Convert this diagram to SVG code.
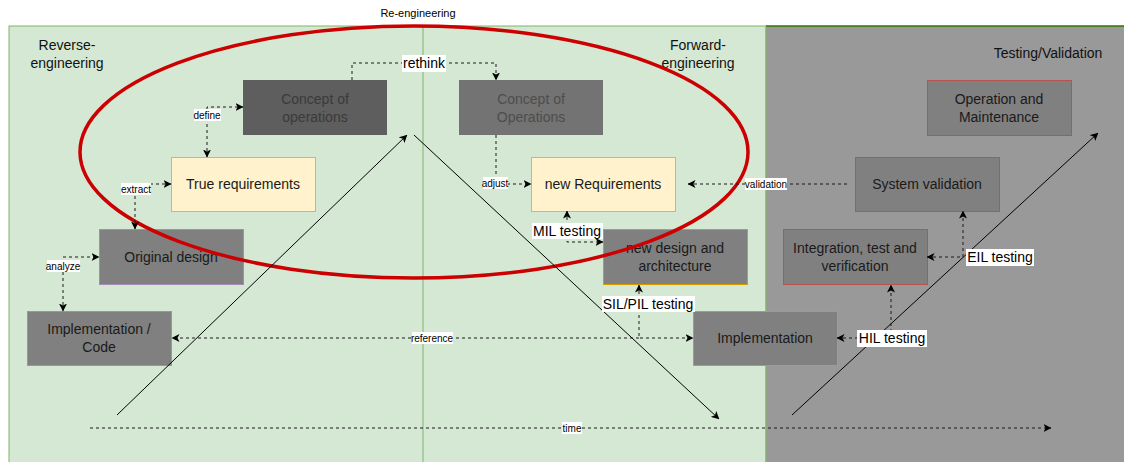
<svg xmlns="http://www.w3.org/2000/svg" width="1124" height="462" viewBox="0 0 1124 462">
<style>
text{font-family:"Liberation Sans",Arial,sans-serif;text-anchor:middle;}
.t14{font-size:14px;}
.t10{font-size:10px;}
.t11{font-size:11px;}
.dark{fill:#1a1a1a;}
.conn{fill:none;stroke:#1a1a1a;stroke-width:1;stroke-dasharray:3 3;}
.solid{fill:none;stroke:#000;stroke-width:1;}
.lbl{fill:#fff;}
.gbox{fill:#808080;}
</style>
<defs>
<marker id="arr" viewBox="0 0 8 8" refX="7.5" refY="4" markerWidth="8" markerHeight="8" markerUnits="userSpaceOnUse" orient="auto-start-reverse">
<path d="M0,0 L8,4 L0,8 L2,4 Z" fill="#000"/>
</marker>
</defs>
<rect width="1124" height="462" fill="#fff"/>
<g id="lanes">
<rect x="9" y="26" width="757" height="446" fill="#d5e8d4" stroke="#82b366" stroke-width="1"/>
<line x1="423" y1="26" x2="423" y2="462" stroke="#82b366" stroke-width="1"/>
<rect x="766" y="26" width="360" height="446" fill="#999999"/>
<line x1="766" y1="26" x2="1124" y2="26" stroke="#2d7600" stroke-width="1.5"/>
<line x1="766" y1="26" x2="766" y2="462" stroke="#82b366" stroke-width="1"/>
<text x="418" y="17" class="t11" fill="#000">Re-engineering</text>
<text x="67" y="50" class="t14" fill="#111">Reverse-</text>
<text x="67" y="68" class="t14" fill="#111">engineering</text>
<text x="698" y="50" class="t14" fill="#111">Forward-</text>
<text x="698" y="68" class="t14" fill="#111">engineering</text>
<text x="1048" y="58" class="t14" fill="#111">Testing/Validation</text>
</g>
<g id="concept-left"><rect x="243" y="80" width="144" height="55" fill="#5e5e5e"/><text x="315" y="104" class="t14" fill="#3a3a3a">Concept of</text><text x="315" y="122" class="t14" fill="#3a3a3a">operations</text></g>
<g id="concept-right"><rect x="459" y="80" width="144" height="55" fill="#737373"/><text x="531" y="104" class="t14" fill="#4d4d4d">Concept of</text><text x="531" y="122" class="t14" fill="#4d4d4d">Operations</text></g>
<g id="true-req"><rect x="171.5" y="157.5" width="144" height="54" fill="#fff2cc" stroke="#d6b656"/><text x="243" y="189" class="t14 dark">True requirements</text></g>
<g id="new-req"><rect x="531.5" y="157.5" width="144" height="54" fill="#fff2cc" stroke="#d6b656"/><text x="603" y="189" class="t14 dark">new Requirements</text></g>
<g id="original-design"><rect x="99.5" y="229.5" width="144" height="55" class="gbox" stroke="#a58bb5"/><text x="171" y="262" class="t14 dark">Original design</text></g>
<g id="impl-code"><rect x="27.5" y="311.5" width="144" height="54" class="gbox" stroke="#a58bb5"/><text x="99" y="334" class="t14 dark">Implementation /</text><text x="99" y="352" class="t14 dark">Code</text></g>
<g id="new-design"><rect x="603.5" y="229.5" width="144" height="55" class="gbox" stroke="#d79b00"/><text x="675" y="253" class="t14 dark">new design and</text><text x="675" y="271" class="t14 dark">architecture</text></g>
<g id="implementation"><rect x="693.5" y="311.5" width="144" height="54" class="gbox" stroke="#d79b00"/><text x="765" y="343" class="t14 dark">Implementation</text></g>
<g id="op-maint"><rect x="927.5" y="80.5" width="144" height="55" class="gbox" stroke="#b85450"/><text x="999" y="104" class="t14 dark">Operation and</text><text x="999" y="122" class="t14 dark">Maintenance</text></g>
<g id="sys-val"><rect x="855.5" y="157.5" width="144" height="54" class="gbox" stroke="#b85450"/><text x="927" y="189" class="t14 dark">System validation</text></g>
<g id="integration"><rect x="783.5" y="229.5" width="144" height="55" class="gbox" stroke="#b85450"/><text x="855" y="253" class="t14 dark">Integration, test and</text><text x="855" y="271" class="t14 dark">verification</text></g>
<g id="reengineering-ellipse"><ellipse cx="414" cy="152" rx="334" ry="126" fill="none" stroke="#cc0000" stroke-width="3.5"/></g>
<g id="connectors">
<path class="solid" d="M117,415 L407,135" marker-end="url(#arr)"/>
<path class="solid" d="M414,135 L719,419" marker-end="url(#arr)"/>
<path class="solid" d="M792,415 L1098,133" marker-end="url(#arr)"/>
<path class="conn" d="M352,80 V63 H496 V80" marker-end="url(#arr)"/>
<path class="conn" d="M207,157 V107 H243" marker-start="url(#arr)" marker-end="url(#arr)"/>
<path class="conn" d="M135,229 V184 H171" marker-start="url(#arr)" marker-end="url(#arr)"/>
<path class="conn" d="M63,311 V257 H99" marker-start="url(#arr)" marker-end="url(#arr)"/>
<path class="conn" d="M496,135 V184 H531" marker-end="url(#arr)"/>
<path class="conn" d="M847,184 H688" marker-end="url(#arr)"/>
<path class="conn" d="M567,211 V242 H603" marker-start="url(#arr)" marker-end="url(#arr)"/>
<path class="conn" d="M639,285 V338 H693" marker-start="url(#arr)" marker-end="url(#arr)"/>
<path class="conn" d="M639,338 H172" marker-end="url(#arr)"/>
<path class="conn" d="M837,338 H891 V285" marker-start="url(#arr)" marker-end="url(#arr)"/>
<path class="conn" d="M927,257 H963 V211" marker-start="url(#arr)" marker-end="url(#arr)"/>
<path class="conn" d="M90,428 H1051" stroke-dasharray="2 2" marker-end="url(#arr)"/>
</g>
<g id="labels">
<rect class="lbl" x="402" y="55" width="44" height="17"/><text x="424" y="68" class="t14" fill="#000">rethink</text>
<rect class="lbl" x="194" y="109" width="27" height="12"/><text x="207" y="119" class="t10" fill="#000">define</text>
<rect class="lbl" x="121" y="183" width="30" height="12"/><text x="136" y="193" class="t10" fill="#000">extract</text>
<rect class="lbl" x="47" y="260" width="33" height="12"/><text x="63" y="270" class="t10" fill="#000">analyze</text>
<rect class="lbl" x="483" y="177" width="25" height="12"/><text x="495" y="187" class="t10" fill="#000">adjust</text>
<rect class="lbl" x="745" y="178" width="42" height="12"/><text x="766" y="188" class="t10" fill="#000">validation</text>
<rect class="lbl" x="532" y="223" width="71" height="16"/><text x="567" y="236" class="t14" fill="#000">MIL testing</text>
<rect class="lbl" x="602" y="296" width="93" height="16"/><text x="648" y="309" class="t14" fill="#000">SIL/PIL testing</text>
<rect class="lbl" x="412" y="332" width="41" height="12"/><text x="432" y="342" class="t10" fill="#000">reference</text>
<rect class="lbl" x="857" y="330" width="70" height="17"/><text x="892" y="343" class="t14" fill="#000">HIL testing</text>
<rect class="lbl" x="966" y="249" width="68" height="17"/><text x="1000" y="262" class="t14" fill="#000">EIL testing</text>
<rect class="lbl" x="562" y="422" width="20" height="12"/><text x="572" y="432" class="t10" fill="#000">time</text>
</g>
</svg>
